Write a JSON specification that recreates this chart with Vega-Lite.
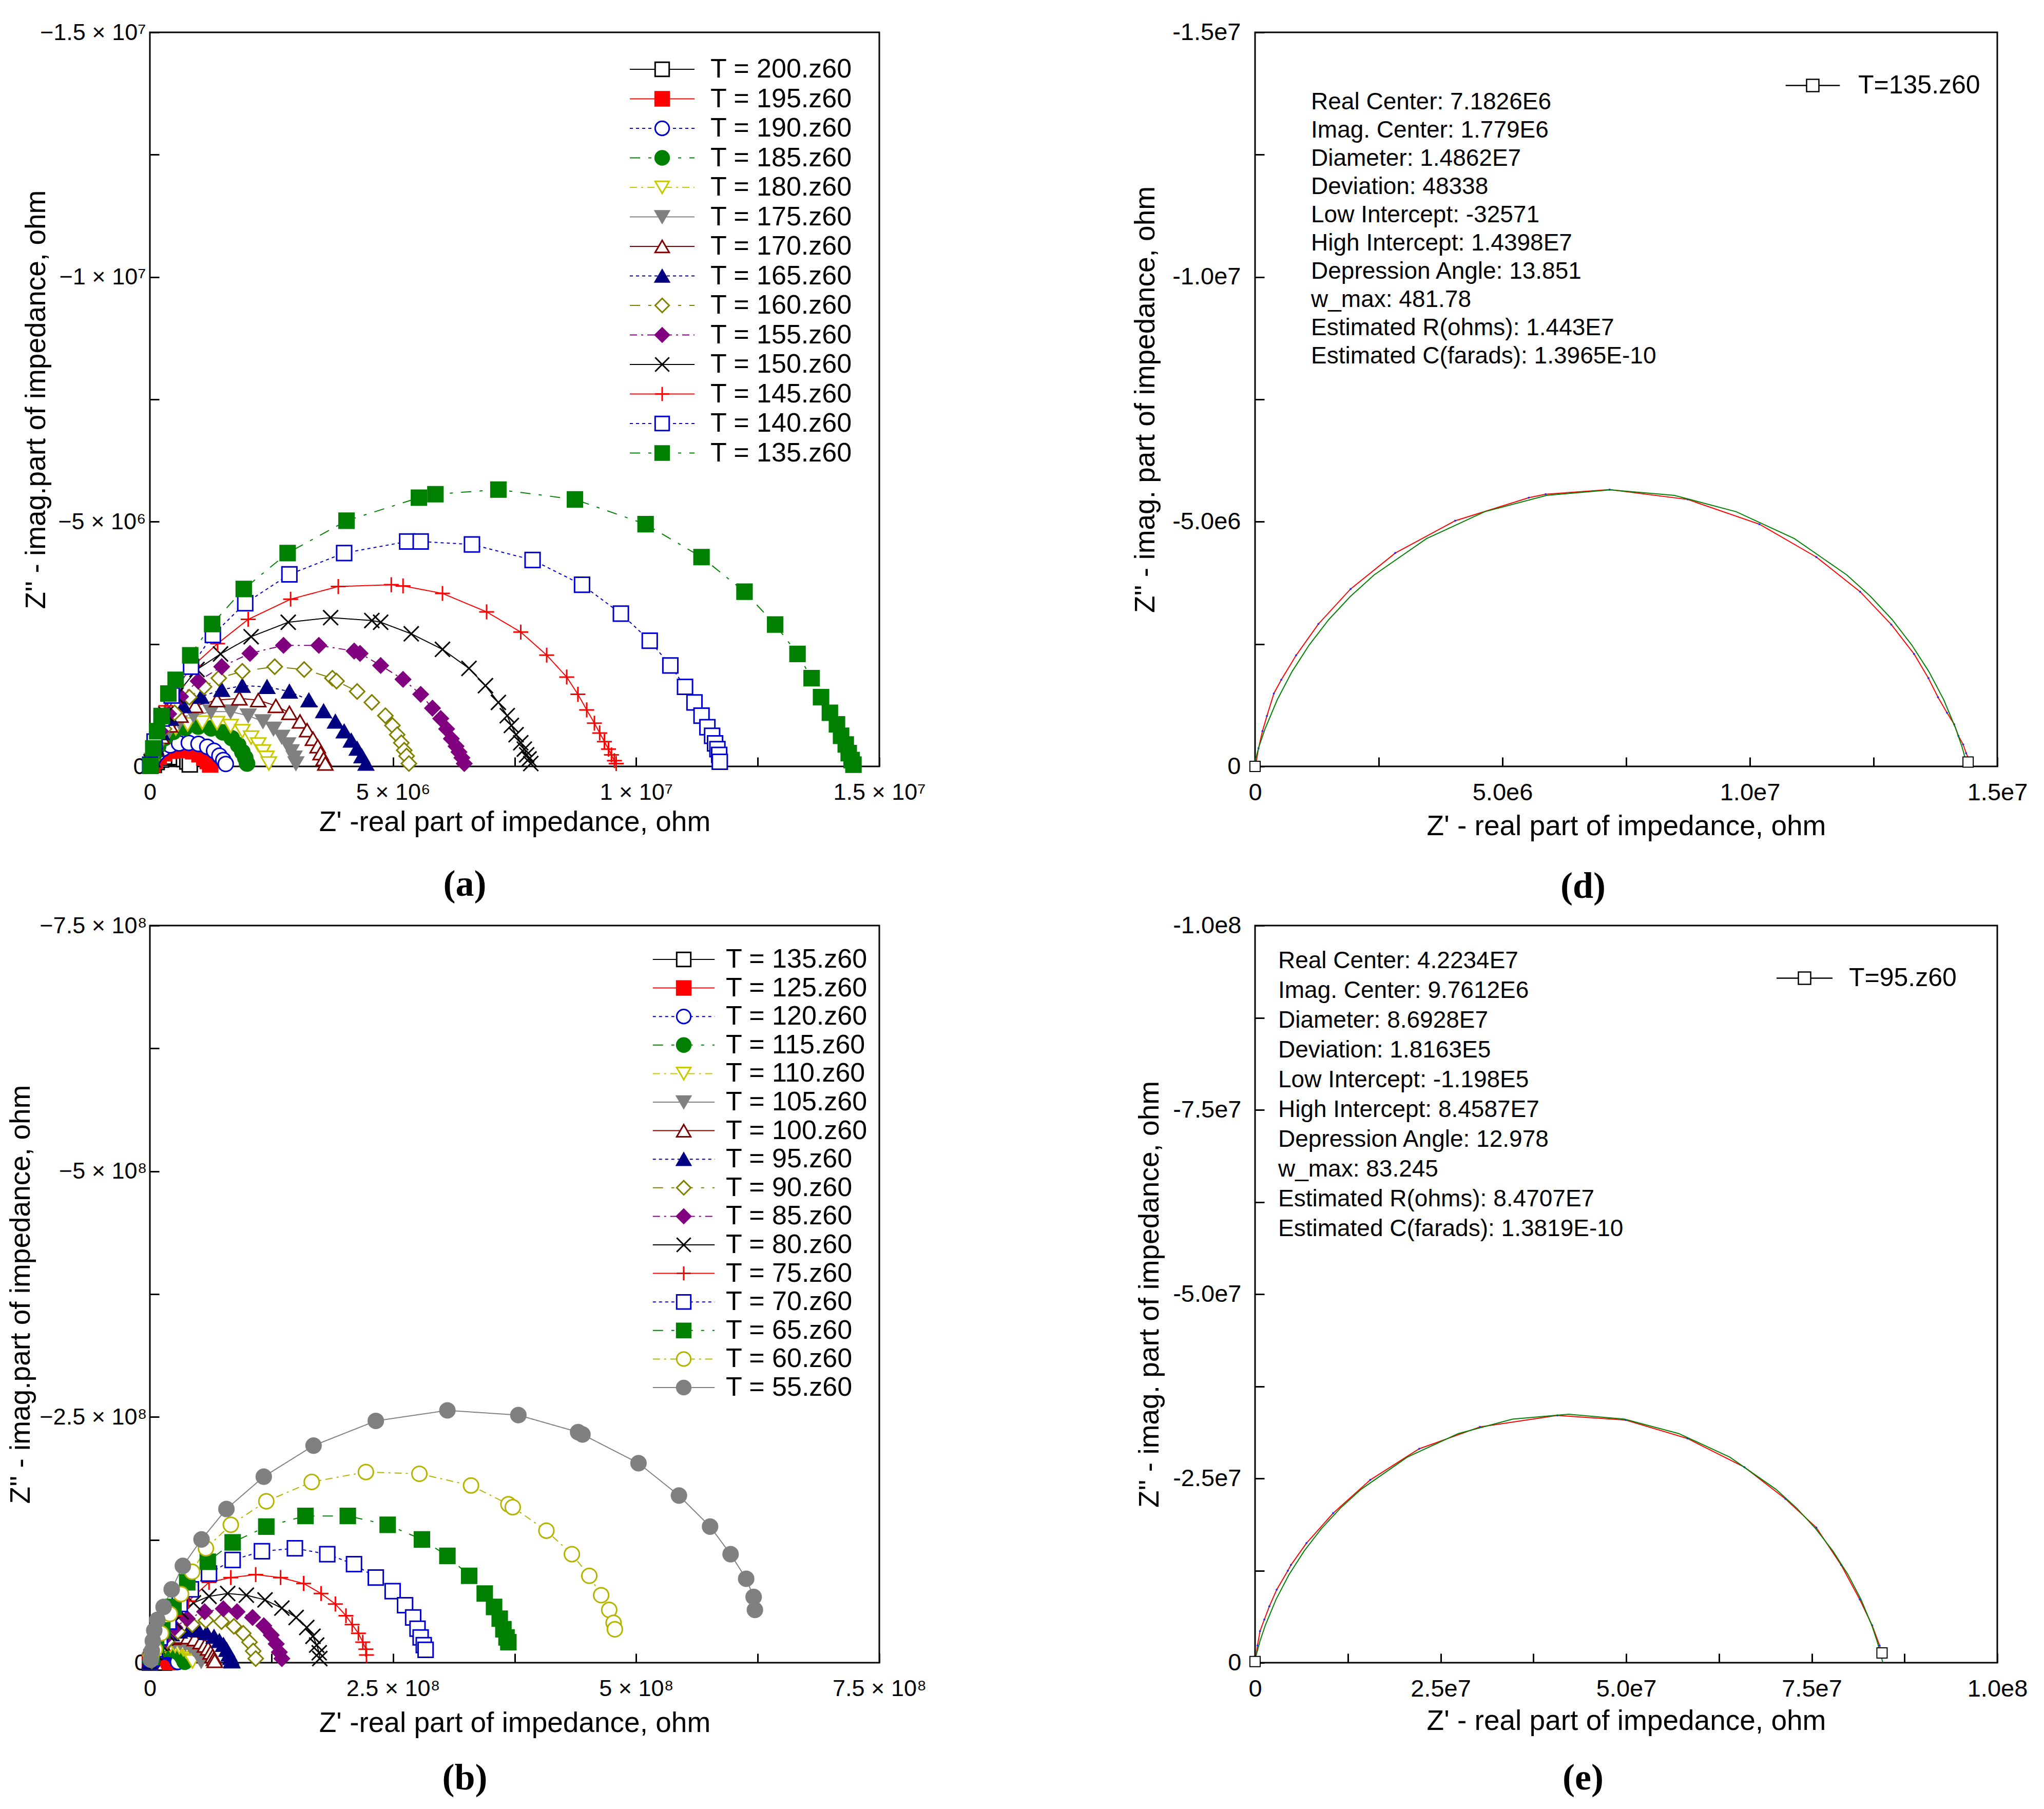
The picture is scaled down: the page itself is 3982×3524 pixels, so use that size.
{
  "$schema": "https://vega.github.io/schema/vega-lite/v6.json",
  "description": "Nyquist plots of impedance at several temperatures, with circle fits",
  "background": "white",
  "padding": {"left": 11, "top": 37, "right": 10, "bottom": 10},
  "datasets": {
    "pa": [
      {"T":200,"x":80000,"y":-30000},{"T":200,"x":140000,"y":-90000},{"T":200,"x":230000,"y":-140000},{"T":200,"x":350000,"y":-180000},{"T":200,"x":480000,"y":-200000},{"T":200,"x":600000,"y":-190000},{"T":200,"x":700000,"y":-150000},{"T":200,"x":770000,"y":-100000},{"T":200,"x":820000,"y":-40000},
      {"T":195,"x":50000,"y":-40000},{"T":195,"x":100000,"y":-120000},{"T":195,"x":180000,"y":-200000},{"T":195,"x":290000,"y":-270000},{"T":195,"x":430000,"y":-320000},{"T":195,"x":580000,"y":-340000},{"T":195,"x":740000,"y":-340000},{"T":195,"x":890000,"y":-310000},{"T":195,"x":1020000,"y":-250000},{"T":195,"x":1120000,"y":-180000},{"T":195,"x":1190000,"y":-110000},{"T":195,"x":1240000,"y":-40000},
      {"T":190,"x":30000,"y":-60000},{"T":190,"x":80000,"y":-170000},{"T":190,"x":160000,"y":-270000},{"T":190,"x":270000,"y":-360000},{"T":190,"x":420000,"y":-430000},{"T":190,"x":600000,"y":-470000},{"T":190,"x":800000,"y":-480000},{"T":190,"x":1000000,"y":-460000},{"T":190,"x":1180000,"y":-400000},{"T":190,"x":1320000,"y":-320000},{"T":190,"x":1430000,"y":-220000},{"T":190,"x":1510000,"y":-130000},{"T":190,"x":1560000,"y":-50000},
      {"T":185,"x":24000,"y":-82000},{"T":185,"x":85000,"y":-247000},{"T":185,"x":170000,"y":-412000},{"T":185,"x":303000,"y":-577000},{"T":185,"x":484000,"y":-707000},{"T":185,"x":726000,"y":-789000},{"T":185,"x":993000,"y":-813000},{"T":185,"x":1259000,"y":-778000},{"T":185,"x":1501000,"y":-695000},{"T":185,"x":1683000,"y":-577000},{"T":185,"x":1816000,"y":-436000},{"T":185,"x":1901000,"y":-295000},{"T":185,"x":1961000,"y":-177000},{"T":185,"x":1998000,"y":-59000},
      {"T":180,"x":36000,"y":-94000},{"T":180,"x":97000,"y":-271000},{"T":180,"x":194000,"y":-448000},{"T":180,"x":339000,"y":-625000},{"T":180,"x":533000,"y":-778000},{"T":180,"x":775000,"y":-860000},{"T":180,"x":1078000,"y":-896000},{"T":180,"x":1380000,"y":-884000},{"T":180,"x":1659000,"y":-825000},{"T":180,"x":1901000,"y":-719000},{"T":180,"x":2082000,"y":-589000},{"T":180,"x":2228000,"y":-448000},{"T":180,"x":2325000,"y":-306000},{"T":180,"x":2397000,"y":-177000},{"T":180,"x":2446000,"y":-59000},
      {"T":175,"x":48000,"y":-130000},{"T":175,"x":121000,"y":-330000},{"T":175,"x":230000,"y":-530000},{"T":175,"x":387000,"y":-719000},{"T":175,"x":605000,"y":-896000},{"T":175,"x":896000,"y":-1037000},{"T":175,"x":1259000,"y":-1119000},{"T":175,"x":1659000,"y":-1119000},{"T":175,"x":2022000,"y":-1037000},{"T":175,"x":2325000,"y":-919000},{"T":175,"x":2542000,"y":-766000},{"T":175,"x":2712000,"y":-601000},{"T":175,"x":2833000,"y":-448000},{"T":175,"x":2906000,"y":-306000},{"T":175,"x":2966000,"y":-177000},{"T":175,"x":3003000,"y":-59000},
      {"T":170,"x":48000,"y":-130000},{"T":170,"x":121000,"y":-365000},{"T":170,"x":242000,"y":-601000},{"T":170,"x":412000,"y":-837000},{"T":170,"x":630000,"y":-1037000},{"T":170,"x":932000,"y":-1237000},{"T":170,"x":1380000,"y":-1355000},{"T":170,"x":1840000,"y":-1390000},{"T":170,"x":2228000,"y":-1355000},{"T":170,"x":2591000,"y":-1237000},{"T":170,"x":2869000,"y":-1096000},{"T":170,"x":3087000,"y":-919000},{"T":170,"x":3233000,"y":-742000},{"T":170,"x":3354000,"y":-566000},{"T":170,"x":3451000,"y":-412000},{"T":170,"x":3511000,"y":-271000},{"T":170,"x":3572000,"y":-153000},{"T":170,"x":3608000,"y":-59000},
      {"T":165,"x":48000,"y":-130000},{"T":165,"x":121000,"y":-389000},{"T":165,"x":242000,"y":-683000},{"T":165,"x":424000,"y":-978000},{"T":165,"x":690000,"y":-1237000},{"T":165,"x":1053000,"y":-1426000},{"T":165,"x":1477000,"y":-1567000},{"T":165,"x":1901000,"y":-1650000},{"T":165,"x":2409000,"y":-1626000},{"T":165,"x":2869000,"y":-1532000},{"T":165,"x":3269000,"y":-1355000},{"T":165,"x":3572000,"y":-1131000},{"T":165,"x":3814000,"y":-919000},{"T":165,"x":3995000,"y":-719000},{"T":165,"x":4141000,"y":-530000},{"T":165,"x":4262000,"y":-365000},{"T":165,"x":4359000,"y":-212000},{"T":165,"x":4443000,"y":-59000},
      {"T":160,"x":48000,"y":-130000},{"T":160,"x":145000,"y":-448000},{"T":160,"x":291000,"y":-766000},{"T":160,"x":508000,"y":-1096000},{"T":160,"x":811000,"y":-1414000},{"T":160,"x":1114000,"y":-1626000},{"T":160,"x":1417000,"y":-1803000},{"T":160,"x":1901000,"y":-1944000},{"T":160,"x":2567000,"y":-2038000},{"T":160,"x":3172000,"y":-1980000},{"T":160,"x":3753000,"y":-1803000},{"T":160,"x":3838000,"y":-1744000},{"T":160,"x":4262000,"y":-1532000},{"T":160,"x":4564000,"y":-1308000},{"T":160,"x":4843000,"y":-1037000},{"T":160,"x":4988000,"y":-837000},{"T":160,"x":5085000,"y":-648000},{"T":160,"x":5170000,"y":-483000},{"T":160,"x":5230000,"y":-330000},{"T":160,"x":5279000,"y":-212000},{"T":160,"x":5327000,"y":-59000},
      {"T":155,"x":24000,"y":-94000},{"T":155,"x":97000,"y":-389000},{"T":155,"x":218000,"y":-719000},{"T":155,"x":387000,"y":-1072000},{"T":155,"x":630000,"y":-1426000},{"T":155,"x":993000,"y":-1744000},{"T":155,"x":1477000,"y":-2038000},{"T":155,"x":2058000,"y":-2309000},{"T":155,"x":2748000,"y":-2474000},{"T":155,"x":3475000,"y":-2474000},{"T":155,"x":4201000,"y":-2357000},{"T":155,"x":4322000,"y":-2309000},{"T":155,"x":4746000,"y":-2062000},{"T":155,"x":5206000,"y":-1779000},{"T":155,"x":5569000,"y":-1473000},{"T":155,"x":5811000,"y":-1190000},{"T":155,"x":5981000,"y":-978000},{"T":155,"x":6102000,"y":-766000},{"T":155,"x":6199000,"y":-566000},{"T":155,"x":6296000,"y":-412000},{"T":155,"x":6356000,"y":-295000},{"T":155,"x":6417000,"y":-177000},{"T":155,"x":6465000,"y":-59000},
      {"T":150,"x":24000,"y":-94000},{"T":150,"x":85000,"y":-389000},{"T":150,"x":182000,"y":-719000},{"T":150,"x":327000,"y":-1072000},{"T":150,"x":533000,"y":-1449000},{"T":150,"x":969000,"y":-1980000},{"T":150,"x":1453000,"y":-2298000},{"T":150,"x":2082000,"y":-2651000},{"T":150,"x":2845000,"y":-2946000},{"T":150,"x":3717000,"y":-3040000},{"T":150,"x":4564000,"y":-2981000},{"T":150,"x":4746000,"y":-2946000},{"T":150,"x":5375000,"y":-2710000},{"T":150,"x":6017000,"y":-2392000},{"T":150,"x":6562000,"y":-2003000},{"T":150,"x":6901000,"y":-1650000},{"T":150,"x":7167000,"y":-1308000},{"T":150,"x":7349000,"y":-1037000},{"T":150,"x":7434000,"y":-837000},{"T":150,"x":7531000,"y":-648000},{"T":150,"x":7627000,"y":-483000},{"T":150,"x":7700000,"y":-353000},{"T":150,"x":7748000,"y":-236000},{"T":150,"x":7797000,"y":-153000},{"T":150,"x":7833000,"y":-59000},
      {"T":145,"x":12000,"y":-94000},{"T":145,"x":73000,"y":-448000},{"T":145,"x":170000,"y":-837000},{"T":145,"x":327000,"y":-1237000},{"T":145,"x":569000,"y":-1661000},{"T":145,"x":896000,"y":-2062000},{"T":145,"x":1392000,"y":-2510000},{"T":145,"x":2022000,"y":-3005000},{"T":145,"x":2894000,"y":-3417000},{"T":145,"x":3874000,"y":-3676000},{"T":145,"x":4964000,"y":-3712000},{"T":145,"x":5206000,"y":-3688000},{"T":145,"x":6017000,"y":-3535000},{"T":145,"x":6925000,"y":-3158000},{"T":145,"x":7627000,"y":-2745000},{"T":145,"x":8160000,"y":-2274000},{"T":145,"x":8572000,"y":-1826000},{"T":145,"x":8802000,"y":-1473000},{"T":145,"x":8983000,"y":-1155000},{"T":145,"x":9141000,"y":-884000},{"T":145,"x":9250000,"y":-683000},{"T":145,"x":9347000,"y":-507000},{"T":145,"x":9431000,"y":-353000},{"T":145,"x":9492000,"y":-236000},{"T":145,"x":9552000,"y":-118000},{"T":145,"x":9589000,"y":-59000},
      {"T":140,"x":5000,"y":-35000},{"T":140,"x":97000,"y":-507000},{"T":140,"x":242000,"y":-978000},{"T":140,"x":448000,"y":-1449000},{"T":140,"x":847000,"y":-2038000},{"T":140,"x":1295000,"y":-2687000},{"T":140,"x":1961000,"y":-3335000},{"T":140,"x":2869000,"y":-3924000},{"T":140,"x":3995000,"y":-4360000},{"T":140,"x":5291000,"y":-4595000},{"T":140,"x":5569000,"y":-4595000},{"T":140,"x":6623000,"y":-4536000},{"T":140,"x":7870000,"y":-4218000},{"T":140,"x":8887000,"y":-3712000},{"T":140,"x":9686000,"y":-3122000},{"T":140,"x":10279000,"y":-2569000},{"T":140,"x":10703000,"y":-2062000},{"T":140,"x":11005000,"y":-1626000},{"T":140,"x":11199000,"y":-1308000},{"T":140,"x":11344000,"y":-1037000},{"T":140,"x":11465000,"y":-801000},{"T":140,"x":11562000,"y":-625000},{"T":140,"x":11623000,"y":-471000},{"T":140,"x":11671000,"y":-353000},{"T":140,"x":11707000,"y":-236000},{"T":140,"x":11720000,"y":-94000},
      {"T":135,"x":10000,"y":-10000},{"T":135,"x":70000,"y":-370000},{"T":135,"x":150000,"y":-720000},{"T":135,"x":240000,"y":-1030000},{"T":135,"x":380000,"y":-1490000},{"T":135,"x":530000,"y":-1770000},{"T":135,"x":830000,"y":-2270000},{"T":135,"x":1280000,"y":-2910000},{"T":135,"x":1930000,"y":-3625000},{"T":135,"x":2833000,"y":-4360000},{"T":135,"x":4044000,"y":-5020000},{"T":135,"x":5533000,"y":-5491000},{"T":135,"x":5872000,"y":-5562000},{"T":135,"x":7167000,"y":-5656000},{"T":135,"x":8741000,"y":-5456000},{"T":135,"x":10194000,"y":-4949000},{"T":135,"x":11344000,"y":-4277000},{"T":135,"x":12228000,"y":-3570000},{"T":135,"x":12858000,"y":-2899000},{"T":135,"x":13318000,"y":-2298000},{"T":135,"x":13608000,"y":-1803000},{"T":135,"x":13802000,"y":-1414000},{"T":135,"x":13984000,"y":-1096000},{"T":135,"x":14129000,"y":-860000},{"T":135,"x":14214000,"y":-625000},{"T":135,"x":14310000,"y":-448000},{"T":135,"x":14371000,"y":-271000},{"T":135,"x":14431000,"y":-130000},{"T":135,"x":14468000,"y":-35000}
    ],
    "pb": [
      {"T":135,"x":10000,"y":-10000},{"T":135,"x":150000,"y":-720000},{"T":135,"x":380000,"y":-1490000},{"T":135,"x":830000,"y":-2270000},{"T":135,"x":1930000,"y":-3625000},{"T":135,"x":4044000,"y":-5020000},{"T":135,"x":7167000,"y":-5656000},{"T":135,"x":10194000,"y":-4949000},{"T":135,"x":12228000,"y":-3570000},{"T":135,"x":13318000,"y":-2298000},{"T":135,"x":13984000,"y":-1096000},{"T":135,"x":14468000,"y":-35000},
      {"T":125,"x":84000,"y":-588000},{"T":125,"x":315000,"y":-1449000},{"T":125,"x":735000,"y":-2457000},{"T":125,"x":1722000,"y":-4032000},{"T":125,"x":3864000,"y":-6153000},{"T":125,"x":7518000,"y":-7938000},{"T":125,"x":10100000,"y":-8316000},{"T":125,"x":12390000,"y":-8169000},{"T":125,"x":14470000,"y":-7560000},{"T":125,"x":16360000,"y":-6573000},{"T":125,"x":17750000,"y":-5523000},{"T":125,"x":18770000,"y":-4557000},{"T":125,"x":19590000,"y":-3297000},{"T":125,"x":20220000,"y":-2121000},{"T":125,"x":20640000,"y":-1260000},{"T":125,"x":20900000,"y":-588000},
      {"T":120,"x":116000,"y":-812000},{"T":120,"x":435000,"y":-2001000},{"T":120,"x":1015000,"y":-3393000},{"T":120,"x":2378000,"y":-5568000},{"T":120,"x":5336000,"y":-8497000},{"T":120,"x":10380000,"y":-10960000},{"T":120,"x":13950000,"y":-11480000},{"T":120,"x":17110000,"y":-11280000},{"T":120,"x":19980000,"y":-10440000},{"T":120,"x":22590000,"y":-9077000},{"T":120,"x":24510000,"y":-7627000},{"T":120,"x":25930000,"y":-6293000},{"T":120,"x":27060000,"y":-4553000},{"T":120,"x":27930000,"y":-2929000},{"T":120,"x":28510000,"y":-1740000},{"T":120,"x":28860000,"y":-812000},
      {"T":115,"x":144000,"y":-1008000},{"T":115,"x":540000,"y":-2484000},{"T":115,"x":1260000,"y":-4212000},{"T":115,"x":2952000,"y":-6912000},{"T":115,"x":6624000,"y":-10550000},{"T":115,"x":12890000,"y":-13610000},{"T":115,"x":17320000,"y":-14260000},{"T":115,"x":21240000,"y":-14000000},{"T":115,"x":24800000,"y":-12960000},{"T":115,"x":28040000,"y":-11270000},{"T":115,"x":30420000,"y":-9468000},{"T":115,"x":32180000,"y":-7812000},{"T":115,"x":33590000,"y":-5652000},{"T":115,"x":34670000,"y":-3636000},{"T":115,"x":35390000,"y":-2160000},{"T":115,"x":35820000,"y":-1008000},
      {"T":110,"x":176000,"y":-1232000},{"T":110,"x":660000,"y":-3036000},{"T":110,"x":1540000,"y":-5148000},{"T":110,"x":3608000,"y":-8448000},{"T":110,"x":8096000,"y":-12890000},{"T":110,"x":15750000,"y":-16630000},{"T":110,"x":21160000,"y":-17420000},{"T":110,"x":25960000,"y":-17120000},{"T":110,"x":30320000,"y":-15840000},{"T":110,"x":34280000,"y":-13770000},{"T":110,"x":37180000,"y":-11570000},{"T":110,"x":39340000,"y":-9548000},{"T":110,"x":41050000,"y":-6908000},{"T":110,"x":42370000,"y":-4444000},{"T":110,"x":43250000,"y":-2640000},{"T":110,"x":43780000,"y":-1232000},
      {"T":105,"x":212000,"y":-1484000},{"T":105,"x":795000,"y":-3657000},{"T":105,"x":1855000,"y":-6201000},{"T":105,"x":4346000,"y":-10180000},{"T":105,"x":9752000,"y":-15530000},{"T":105,"x":18970000,"y":-20030000},{"T":105,"x":25490000,"y":-20990000},{"T":105,"x":31270000,"y":-20620000},{"T":105,"x":36520000,"y":-19080000},{"T":105,"x":41290000,"y":-16590000},{"T":105,"x":44790000,"y":-13940000},{"T":105,"x":47380000,"y":-11500000},{"T":105,"x":49450000,"y":-8320000},{"T":105,"x":51040000,"y":-5350000},{"T":105,"x":52100000,"y":-3180000},{"T":105,"x":52740000,"y":-1484000},
      {"T":100,"x":268000,"y":-1876000},{"T":100,"x":1005000,"y":-4623000},{"T":100,"x":2345000,"y":-7839000},{"T":100,"x":5494000,"y":-12860000},{"T":100,"x":12330000,"y":-19630000},{"T":100,"x":23990000,"y":-25330000},{"T":100,"x":32230000,"y":-26530000},{"T":100,"x":39530000,"y":-26060000},{"T":100,"x":46160000,"y":-24120000},{"T":100,"x":52190000,"y":-20970000},{"T":100,"x":56620000,"y":-17620000},{"T":100,"x":59900000,"y":-14540000},{"T":100,"x":62510000,"y":-10520000},{"T":100,"x":64520000,"y":-6770000},{"T":100,"x":65860000,"y":-4020000},{"T":100,"x":66670000,"y":-1876000},
      {"T":95,"x":0,"y":0},{"T":95,"x":330000,"y":-2340000},{"T":95,"x":670000,"y":-4290000},{"T":95,"x":1250000,"y":-5850000},{"T":95,"x":1920000,"y":-7640000},{"T":95,"x":2920000,"y":-9910000},{"T":95,"x":4420000,"y":-12480000},{"T":95,"x":4840000,"y":-13260000},{"T":95,"x":6930000,"y":-16220000},{"T":95,"x":10520000,"y":-20280000},{"T":95,"x":15530000,"y":-24800000},{"T":95,"x":22120000,"y":-29020000},{"T":95,"x":30300000,"y":-31980000},{"T":95,"x":40730000,"y":-33540000},{"T":95,"x":49920000,"y":-32920000},{"T":95,"x":58260000,"y":-30420000},{"T":95,"x":65940000,"y":-26520000},{"T":95,"x":71450000,"y":-22230000},{"T":95,"x":75620000,"y":-18330000},{"T":95,"x":78960000,"y":-13260000},{"T":95,"x":81470000,"y":-8580000},{"T":95,"x":83140000,"y":-5070000},{"T":95,"x":84140000,"y":-2340000},{"T":95,"x":84390000,"y":-1560000},
      {"T":90,"x":1900000,"y":-1800000},{"T":90,"x":5100000,"y":-7200000},{"T":90,"x":10200000,"y":-13700000},{"T":90,"x":17900000,"y":-22100000},{"T":90,"x":28800000,"y":-31600000},{"T":90,"x":43500000,"y":-38800000},{"T":90,"x":57600000,"y":-43000000},{"T":90,"x":73600000,"y":-41800000},{"T":90,"x":86400000,"y":-37000000},{"T":90,"x":96000000,"y":-29900000},{"T":90,"x":102400000,"y":-20900000},{"T":90,"x":106200000,"y":-11900000},{"T":90,"x":108800000,"y":-4200000},
      {"T":85,"x":1900000,"y":-3000000},{"T":85,"x":5100000,"y":-9000000},{"T":85,"x":9600000,"y":-16700000},{"T":85,"x":16000000,"y":-25700000},{"T":85,"x":25600000,"y":-35800000},{"T":85,"x":38400000,"y":-44800000},{"T":85,"x":56300000,"y":-51900000},{"T":85,"x":75500000,"y":-54900000},{"T":85,"x":89600000,"y":-51900000},{"T":85,"x":105600000,"y":-46000000},{"T":85,"x":117100000,"y":-37600000},{"T":85,"x":124800000,"y":-28100000},{"T":85,"x":129900000,"y":-19100000},{"T":85,"x":133100000,"y":-10700000},{"T":85,"x":135700000,"y":-4200000},
      {"T":80,"x":1900000,"y":-3000000},{"T":80,"x":5100000,"y":-10100000},{"T":80,"x":10200000,"y":-19700000},{"T":80,"x":17300000,"y":-29900000},{"T":80,"x":25600000,"y":-41800000},{"T":80,"x":32000000,"y":-51900000},{"T":80,"x":44800000,"y":-60900000},{"T":80,"x":60800000,"y":-67500000},{"T":80,"x":80000000,"y":-70400000},{"T":80,"x":99200000,"y":-68700000},{"T":80,"x":118400000,"y":-63900000},{"T":80,"x":135700000,"y":-55500000},{"T":80,"x":150400000,"y":-46000000},{"T":80,"x":161300000,"y":-35800000},{"T":80,"x":167700000,"y":-26900000},{"T":80,"x":171500000,"y":-17900000},{"T":80,"x":174100000,"y":-10100000},{"T":80,"x":174700000,"y":-4200000},
      {"T":75,"x":1900000,"y":-3000000},{"T":75,"x":5100000,"y":-11900000},{"T":75,"x":9600000,"y":-22100000},{"T":75,"x":16000000,"y":-34000000},{"T":75,"x":25600000,"y":-47800000},{"T":75,"x":39700000,"y":-62700000},{"T":75,"x":60800000,"y":-81800000},{"T":75,"x":83200000,"y":-86600000},{"T":75,"x":108800000,"y":-89600000},{"T":75,"x":134400000,"y":-86600000},{"T":75,"x":158100000,"y":-80600000},{"T":75,"x":176000000,"y":-70400000},{"T":75,"x":190700000,"y":-59700000},{"T":75,"x":201600000,"y":-47800000},{"T":75,"x":208000000,"y":-38800000},{"T":75,"x":214400000,"y":-29900000},{"T":75,"x":218900000,"y":-20900000},{"T":75,"x":222100000,"y":-13700000},{"T":75,"x":222700000,"y":-7800000},
      {"T":70,"x":1900000,"y":-4200000},{"T":70,"x":5100000,"y":-13700000},{"T":70,"x":10200000,"y":-25700000},{"T":70,"x":19200000,"y":-41800000},{"T":70,"x":30700000,"y":-59700000},{"T":70,"x":42200000,"y":-74600000},{"T":70,"x":60800000,"y":-90700000},{"T":70,"x":85100000,"y":-104500000},{"T":70,"x":115200000,"y":-113400000},{"T":70,"x":149100000,"y":-116400000},{"T":70,"x":182400000,"y":-110400000},{"T":70,"x":209900000,"y":-100300000},{"T":70,"x":232300000,"y":-86600000},{"T":70,"x":249600000,"y":-72800000},{"T":70,"x":262400000,"y":-58500000},{"T":70,"x":270700000,"y":-46000000},{"T":70,"x":275200000,"y":-34600000},{"T":70,"x":278400000,"y":-25700000},{"T":70,"x":281600000,"y":-17900000},{"T":70,"x":283500000,"y":-13100000},
      {"T":65,"x":1900000,"y":-6000000},{"T":65,"x":6400000,"y":-17900000},{"T":65,"x":12800000,"y":-32800000},{"T":65,"x":24300000,"y":-56700000},{"T":65,"x":38400000,"y":-81800000},{"T":65,"x":59500000,"y":-102700000},{"T":65,"x":85100000,"y":-122400000},{"T":65,"x":119700000,"y":-138500000},{"T":65,"x":160000000,"y":-149300000},{"T":65,"x":203500000,"y":-149300000},{"T":65,"x":244500000,"y":-140300000},{"T":65,"x":279700000,"y":-125400000},{"T":65,"x":305900000,"y":-108700000},{"T":65,"x":328300000,"y":-88400000},{"T":65,"x":344300000,"y":-70400000},{"T":65,"x":353900000,"y":-56700000},{"T":65,"x":359700000,"y":-44800000},{"T":65,"x":363500000,"y":-34000000},{"T":65,"x":366700000,"y":-25700000},{"T":65,"x":368600000,"y":-20900000},
      {"T":60,"x":1300000,"y":-6000000},{"T":60,"x":5100000,"y":-13700000},{"T":60,"x":11500000,"y":-29900000},{"T":60,"x":20500000,"y":-49600000},{"T":60,"x":32000000,"y":-69800000},{"T":60,"x":43500000,"y":-92500000},{"T":60,"x":57600000,"y":-116400000},{"T":60,"x":83200000,"y":-140300000},{"T":60,"x":119700000,"y":-164200000},{"T":60,"x":166400000,"y":-183900000},{"T":60,"x":222100000,"y":-194000000},{"T":60,"x":277100000,"y":-192200000},{"T":60,"x":330200000,"y":-180300000},{"T":60,"x":368600000,"y":-161200000},{"T":60,"x":373100000,"y":-158200000},{"T":60,"x":407700000,"y":-134300000},{"T":60,"x":433900000,"y":-110400000},{"T":60,"x":451800000,"y":-88400000},{"T":60,"x":464000000,"y":-68700000},{"T":60,"x":472300000,"y":-53700000},{"T":60,"x":476800000,"y":-40600000},{"T":60,"x":478100000,"y":-34000000},
      {"T":55,"x":1000000,"y":-3000000},{"T":55,"x":2000000,"y":-11900000},{"T":55,"x":3000000,"y":-22100000},{"T":55,"x":4500000,"y":-32800000},{"T":55,"x":7700000,"y":-43600000},{"T":55,"x":14100000,"y":-56700000},{"T":55,"x":22400000,"y":-74600000},{"T":55,"x":33900000,"y":-98500000},{"T":55,"x":53100000,"y":-125400000},{"T":55,"x":78700000,"y":-156400000},{"T":55,"x":117100000,"y":-189300000},{"T":55,"x":168300000,"y":-220900000},{"T":55,"x":232300000,"y":-246000000},{"T":55,"x":305900000,"y":-256700000},{"T":55,"x":378900000,"y":-251900000},{"T":55,"x":440300000,"y":-234600000},{"T":55,"x":444800000,"y":-232200000},{"T":55,"x":502400000,"y":-203000000},{"T":55,"x":544000000,"y":-170100000},{"T":55,"x":576000000,"y":-138500000},{"T":55,"x":597100000,"y":-110400000},{"T":55,"x":613100000,"y":-85400000},{"T":55,"x":620800000,"y":-66900000},{"T":55,"x":622100000,"y":-53700000}
    ],
    "fitd": [
      {"x":-28000,"y":0},{"x":76000,"y":-394000},{"x":200000,"y":-762000},{"x":448000,"y":-1361000},{"x":747000,"y":-1937000},{"x":1095000,"y":-2483000},{"x":1490000,"y":-3000000},{"x":1928000,"y":-3475000},{"x":2406000,"y":-3913000},{"x":3467000,"y":-4656000},{"x":4641000,"y":-5204000},{"x":5893000,"y":-5539000},{"x":7183000,"y":-5652000},{"x":8473000,"y":-5539000},{"x":9724000,"y":-5204000},{"x":10898000,"y":-4656000},{"x":11959000,"y":-3913000},{"x":12437000,"y":-3475000},{"x":12875000,"y":-3000000},{"x":13270000,"y":-2483000},{"x":13618000,"y":-1937000},{"x":13918000,"y":-1361000},{"x":14165000,"y":-762000},{"x":14289000,"y":-394000},{"x":14393000,"y":-19000}
    ],
    "fite": [
      {"x":-117000,"y":0},{"x":669000,"y":-2948000},{"x":1390000,"y":-5100000},{"x":2840000,"y":-8607000},{"x":4590000,"y":-11970000},{"x":6628000,"y":-15170000},{"x":8940000,"y":-18180000},{"x":11500000,"y":-20970000},{"x":14300000,"y":-23530000},{"x":20500000,"y":-27880000},{"x":27370000,"y":-31080000},{"x":34690000,"y":-33040000},{"x":42230000,"y":-33700000},{"x":49780000,"y":-33040000},{"x":57100000,"y":-31080000},{"x":63970000,"y":-27880000},{"x":70170000,"y":-23530000},{"x":72970000,"y":-20970000},{"x":75530000,"y":-18180000},{"x":77840000,"y":-15170000},{"x":79870000,"y":-11970000},{"x":81630000,"y":-8607000},{"x":83080000,"y":-5100000},{"x":83800000,"y":-2948000},{"x":84580000,"y":-20000}
    ],
    "endd": [{"T":"T=135.z60","x":0,"y":0},{"T":"T=135.z60","x":14410000,"y":-90000}],
    "ende": [{"T":"T=95.z60","x":0,"y":-160000},{"T":"T=95.z60","x":84470000,"y":-1330000}],
    "infod": [{"info": "Real Center: 7.1826E6\nImag. Center: 1.779E6\nDiameter: 1.4862E7\nDeviation: 48338\nLow Intercept: -32571\nHigh Intercept: 1.4398E7\nDepression Angle: 13.851\nw_max: 481.78\nEstimated R(ohms): 1.443E7\nEstimated C(farads): 1.3965E-10"}],
    "infoe": [{"info": "Real Center: 4.2234E7\nImag. Center: 9.7612E6\nDiameter: 8.6928E7\nDeviation: 1.8163E5\nLow Intercept: -1.198E5\nHigh Intercept: 8.4587E7\nDepression Angle: 12.978\nw_max: 83.245\nEstimated R(ohms): 8.4707E7\nEstimated C(farads): 1.3819E-10"}]
  },
  "columns": 2,
  "bounds": "flush",
  "align": "each",
  "spacing": {"row": 310, "column": 732},
  "resolve": {
    "scale": {"color": "independent", "strokeDash": "independent", "shape": "independent", "stroke": "independent", "fill": "independent"},
    "legend": {"color": "independent", "strokeDash": "independent", "shape": "independent", "stroke": "independent", "fill": "independent"}
  },
  "concat": [
    {
      "width": 1421,
      "height": 1430,
      "title": {"text": "(a)", "orient": "bottom", "frame": "group", "anchor": "middle", "offset": 94, "baseline": "middle", "dx": -97},
      "data": {"name": "pa"},
      "layer": [
        {
          "mark": {"type": "line", "strokeWidth": 2},
          "encoding": {
            "x": {"field": "x", "type": "quantitative", "scale": {"domain": [0, 15000000], "nice": false, "zero": false},
              "axis": {"title": "Z' -real part of impedance, ohm", "values": [0, 2500000, 5000000, 7500000, 10000000, 12500000, 15000000],
                "labelExpr": "datum.value == 0 ? '0' : datum.value == 5000000 ? '5 × 10⁶' : datum.value == 10000000 ? '1 × 10⁷' : datum.value == 15000000 ? '1.5 × 10⁷' : ''",
                "labelFontSize": 45, "labelPadding": 46, "titleY": 108}},
            "y": {"field": "y", "type": "quantitative", "scale": {"domain": [-15000000, 0], "reverse": true, "nice": false, "zero": false},
              "axis": {"title": "Z'' - imag.part of impedance, ohm", "values": [0, -2500000, -5000000, -7500000, -10000000, -12500000, -15000000],
                "labelExpr": "datum.value == 0 ? '0' : datum.value == -5000000 ? '−5 × 10⁶' : datum.value == -10000000 ? '−1 × 10⁷' : datum.value == -15000000 ? '−1.5 × 10⁷' : ''",
                "labelFontSize": 45, "labelPadding": 26, "titleX": -222}},
            "color": {"field": "T", "type": "nominal",
              "scale": {"domain": [200, 195, 190, 185, 180, 175, 170, 165, 160, 155, 150, 145, 140, 135],
                "range": ["#000000", "#FF0000", "#0000CC", "#008000", "#C8C800", "#808080", "#800000", "#000080", "#808000", "#800080", "#000000", "#FF0000", "#0000CC", "#008000"]},
              "legend": {"title": null, "orient": "none", "legendX": 972, "legendY": 46, "padding": 0, "symbolType": "M-4.6,0H4.6", "symbolSize": 750, "symbolStrokeWidth": 2, "labelExpr": "''", "labelFontSize": 52, "labelOffset": 68, "rowPadding": 5.5}},
            "strokeDash": {"field": "T", "type": "nominal",
              "scale": {"domain": [200, 195, 190, 185, 180, 175, 170, 165, 160, 155, 150, 145, 140, 135],
                "range": [[1, 0], [1, 0], [6, 6], [20, 16, 6, 16], [14, 8, 4, 8], [1, 0], [1, 0], [6, 6], [20, 16, 6, 16], [14, 8, 4, 8], [1, 0], [1, 0], [6, 6], [20, 16, 6, 16]]},
              "legend": {"title": null, "orient": "none", "legendX": 972, "legendY": 46, "padding": 0, "symbolType": "M-4.6,0H4.6", "symbolSize": 750, "symbolStrokeWidth": 2, "labelExpr": "''", "labelFontSize": 52, "labelOffset": 68, "rowPadding": 5.5}}
          }
        },
        {
          "mark": {"type": "point", "size": 850, "strokeWidth": 3, "opacity": 1},
          "encoding": {
            "x": {"field": "x", "type": "quantitative"},
            "y": {"field": "y", "type": "quantitative"},
            "shape": {"field": "T", "type": "nominal", "sort": "descending",
              "scale": {"range": ["square", "square", "circle", "circle", "triangle-down", "triangle-down", "triangle-up", "triangle-up", "diamond", "diamond", "M-1,-1L1,1M-1,1L1,-1", "M-1,0L1,0M0,-1L0,1", "square", "square"]},
              "legend": {"title": null, "orient": "none", "legendX": 972, "legendY": 46, "padding": 0, "symbolSize": 750, "symbolStrokeWidth": 3, "labelFontSize": 52, "labelOffset": 68, "rowPadding": 5.5, "labelExpr": "'T = ' + datum.label + '.z60'"}},
            "stroke": {"field": "T", "type": "nominal", "sort": "descending",
              "scale": {"range": ["#000000", "#FF0000", "#0000CC", "#008000", "#C8C800", "#808080", "#800000", "#000080", "#808000", "#800080", "#000000", "#FF0000", "#0000CC", "#008000"]},
              "legend": {"title": null, "orient": "none", "legendX": 972, "legendY": 46, "padding": 0, "symbolSize": 750, "symbolStrokeWidth": 3, "labelFontSize": 52, "labelOffset": 68, "rowPadding": 5.5, "labelExpr": "'T = ' + datum.label + '.z60'"}},
            "fill": {"field": "T", "type": "nominal", "sort": "descending",
              "scale": {"range": ["white", "#FF0000", "white", "#008000", "white", "#808080", "white", "#000080", "white", "#800080", "transparent", "transparent", "white", "#008000"]},
              "legend": {"title": null, "orient": "none", "legendX": 972, "legendY": 46, "padding": 0, "symbolSize": 750, "symbolStrokeWidth": 3, "labelFontSize": 52, "labelOffset": 68, "rowPadding": 5.5, "labelExpr": "'T = ' + datum.label + '.z60'"}}
          }
        }
      ]
    },
    {
      "width": 1446,
      "height": 1430,
      "title": {"text": "(d)", "orient": "bottom", "frame": "group", "anchor": "middle", "offset": 90, "baseline": "middle", "dx": -84},
      "layer": [
        {
          "data": {"name": "pa"},
          "transform": [{"filter": "datum.T == 135"}],
          "mark": {"type": "line", "color": "#FF0000", "strokeWidth": 2},
          "encoding": {
            "x": {"field": "x", "type": "quantitative", "scale": {"domain": [0, 15000000], "nice": false, "zero": false},
              "axis": {"title": "Z' - real part of impedance, ohm", "values": [0, 2500000, 5000000, 7500000, 10000000, 12500000, 15000000],
                "labelExpr": "datum.value == 0 ? '0' : datum.value == 5000000 ? '5.0e6' : datum.value == 10000000 ? '1.0e7' : datum.value == 15000000 ? '1.5e7' : ''",
                "labelFontSize": 47, "labelPadding": 46, "titleY": 116}},
            "y": {"field": "y", "type": "quantitative", "scale": {"domain": [-15000000, 0], "reverse": true, "nice": false, "zero": false},
              "axis": {"title": "Z'' - imag. part of impedance, ohm", "values": [0, -2500000, -5000000, -7500000, -10000000, -12500000, -15000000],
                "labelExpr": "datum.value == 0 ? '0' : datum.value == -5000000 ? '-5.0e6' : datum.value == -10000000 ? '-1.0e7' : datum.value == -15000000 ? '-1.5e7' : ''",
                "labelFontSize": 47, "labelPadding": 46, "titleX": -214}}
          }
        },
        {
          "data": {"name": "pa"},
          "transform": [{"filter": "datum.T == 135"}],
          "mark": {"type": "point", "filled": true, "color": "#2030FF", "size": 16, "opacity": 1},
          "encoding": {"x": {"field": "x", "type": "quantitative"}, "y": {"field": "y", "type": "quantitative"}}
        },
        {
          "data": {"name": "fitd"},
          "mark": {"type": "line", "color": "#008000", "strokeWidth": 2},
          "encoding": {"x": {"field": "x", "type": "quantitative"}, "y": {"field": "y", "type": "quantitative"}}
        },
        {
          "data": {"name": "endd"},
          "mark": {"type": "point", "shape": "square", "size": 400, "strokeWidth": 2, "fill": "white", "opacity": 1},
          "encoding": {
            "x": {"field": "x", "type": "quantitative"},
            "y": {"field": "y", "type": "quantitative"},
            "stroke": {"field": "T", "type": "nominal", "scale": {"range": ["#000000"]},
              "legend": {"title": null, "orient": "none", "legendX": 1061, "legendY": 78, "padding": 0,
                "symbolType": "M-2.2,0H-0.5M0.5,0H2.2M-0.5,-0.5H0.5V0.5H-0.5Z", "symbolSize": 2304, "symbolStrokeWidth": 2.5, "symbolFillColor": "white",
                "labelFontSize": 50, "labelOffset": 63}}
          }
        },
        {
          "data": {"name": "infod"},
          "mark": {"type": "text", "align": "left", "baseline": "top", "lineBreak": "\n", "font": "Liberation Sans", "fontSize": 46, "lineHeight": 55, "color": "black"},
          "encoding": {
            "x": {"datum": 1131000},
            "y": {"datum": -13800000},
            "text": {"field": "info", "type": "nominal"}
          }
        }
      ]
    },
    {
      "width": 1421,
      "height": 1436,
      "title": {"text": "(b)", "orient": "bottom", "frame": "group", "anchor": "middle", "offset": 80, "baseline": "middle", "dx": -97},
      "data": {"name": "pb"},
      "layer": [
        {
          "mark": {"type": "line", "strokeWidth": 2},
          "encoding": {
            "x": {"field": "x", "type": "quantitative", "scale": {"domain": [0, 750000000], "nice": false, "zero": false},
              "axis": {"title": "Z' -real part of impedance, ohm", "values": [0, 125000000, 250000000, 375000000, 500000000, 625000000, 750000000],
                "labelExpr": "datum.value == 0 ? '0' : datum.value == 250000000 ? '2.5 × 10⁸' : datum.value == 500000000 ? '5 × 10⁸' : datum.value == 750000000 ? '7.5 × 10⁸' : ''",
                "labelFontSize": 45, "labelPadding": 46, "titleY": 117}},
            "y": {"field": "y", "type": "quantitative", "scale": {"domain": [-750000000, 0], "reverse": true, "nice": false, "zero": false},
              "axis": {"title": "Z'' - imag.part of impedance, ohm", "values": [0, -125000000, -250000000, -375000000, -500000000, -625000000, -750000000],
                "labelExpr": "datum.value == 0 ? '0' : datum.value == -250000000 ? '−2.5 × 10⁸' : datum.value == -500000000 ? '−5 × 10⁸' : datum.value == -750000000 ? '−7.5 × 10⁸' : ''",
                "labelFontSize": 45, "labelPadding": 24, "titleX": -252}},
            "color": {"field": "T", "type": "nominal",
              "scale": {"domain": [135, 125, 120, 115, 110, 105, 100, 95, 90, 85, 80, 75, 70, 65, 60, 55],
                "range": ["#000000", "#FF0000", "#0000CC", "#008000", "#C8C800", "#808080", "#800000", "#000080", "#808000", "#800080", "#000000", "#FF0000", "#0000CC", "#008000", "#B4B400", "#808080"]},
              "legend": {"title": null, "orient": "none", "legendX": 1014, "legendY": 40, "padding": 0, "symbolType": "M-4.4,0H4.4", "symbolSize": 750, "symbolStrokeWidth": 2, "labelExpr": "''", "labelFontSize": 52, "labelOffset": 56, "rowPadding": 3.6}},
            "strokeDash": {"field": "T", "type": "nominal",
              "scale": {"domain": [135, 125, 120, 115, 110, 105, 100, 95, 90, 85, 80, 75, 70, 65, 60, 55],
                "range": [[1, 0], [1, 0], [6, 6], [20, 16, 6, 16], [14, 8, 4, 8], [1, 0], [1, 0], [6, 6], [20, 16, 6, 16], [14, 8, 4, 8], [1, 0], [1, 0], [6, 6], [20, 16, 6, 16], [14, 8, 4, 8], [1, 0]]},
              "legend": {"title": null, "orient": "none", "legendX": 1014, "legendY": 40, "padding": 0, "symbolType": "M-4.4,0H4.4", "symbolSize": 750, "symbolStrokeWidth": 2, "labelExpr": "''", "labelFontSize": 52, "labelOffset": 56, "rowPadding": 3.6}}
          }
        },
        {
          "mark": {"type": "point", "size": 850, "strokeWidth": 3, "opacity": 1},
          "encoding": {
            "x": {"field": "x", "type": "quantitative"},
            "y": {"field": "y", "type": "quantitative"},
            "shape": {"field": "T", "type": "nominal", "sort": "descending",
              "scale": {"range": ["square", "square", "circle", "circle", "triangle-down", "triangle-down", "triangle-up", "triangle-up", "diamond", "diamond", "M-1,-1L1,1M-1,1L1,-1", "M-1,0L1,0M0,-1L0,1", "square", "square", "circle", "circle"]},
              "legend": {"title": null, "orient": "none", "legendX": 1014, "legendY": 40, "padding": 0, "symbolSize": 750, "symbolStrokeWidth": 3, "labelFontSize": 52, "labelOffset": 56, "rowPadding": 3.6, "labelExpr": "'T = ' + datum.label + '.z60'"}},
            "stroke": {"field": "T", "type": "nominal", "sort": "descending",
              "scale": {"range": ["#000000", "#FF0000", "#0000CC", "#008000", "#C8C800", "#808080", "#800000", "#000080", "#808000", "#800080", "#000000", "#FF0000", "#0000CC", "#008000", "#B4B400", "#808080"]},
              "legend": {"title": null, "orient": "none", "legendX": 1014, "legendY": 40, "padding": 0, "symbolSize": 750, "symbolStrokeWidth": 3, "labelFontSize": 52, "labelOffset": 56, "rowPadding": 3.6, "labelExpr": "'T = ' + datum.label + '.z60'"}},
            "fill": {"field": "T", "type": "nominal", "sort": "descending",
              "scale": {"range": ["white", "#FF0000", "white", "#008000", "white", "#808080", "white", "#000080", "white", "#800080", "transparent", "transparent", "white", "#008000", "white", "#808080"]},
              "legend": {"title": null, "orient": "none", "legendX": 1014, "legendY": 40, "padding": 0, "symbolSize": 750, "symbolStrokeWidth": 3, "labelFontSize": 52, "labelOffset": 56, "rowPadding": 3.6, "labelExpr": "'T = ' + datum.label + '.z60'"}}
          }
        }
      ]
    },
    {
      "width": 1446,
      "height": 1436,
      "title": {"text": "(e)", "orient": "bottom", "frame": "group", "anchor": "middle", "offset": 84, "baseline": "middle", "dx": -84},
      "layer": [
        {
          "data": {"name": "pb"},
          "transform": [{"filter": "datum.T == 95"}],
          "mark": {"type": "line", "color": "#FF0000", "strokeWidth": 2},
          "encoding": {
            "x": {"field": "x", "type": "quantitative", "scale": {"domain": [0, 100000000], "nice": false, "zero": false},
              "axis": {"title": "Z' - real part of impedance, ohm", "values": [0, 12500000, 25000000, 37500000, 50000000, 62500000, 75000000, 87500000, 100000000],
                "labelExpr": "datum.value == 0 ? '0' : datum.value == 25000000 ? '2.5e7' : datum.value == 50000000 ? '5.0e7' : datum.value == 75000000 ? '7.5e7' : datum.value == 100000000 ? '1.0e8' : ''",
                "labelFontSize": 47, "labelPadding": 46, "titleY": 113}},
            "y": {"field": "y", "type": "quantitative", "scale": {"domain": [-100000000, 0], "reverse": true, "nice": false, "zero": false},
              "axis": {"title": "Z'' - imag. part of impedance, ohm", "values": [0, -12500000, -25000000, -37500000, -50000000, -62500000, -75000000, -87500000, -100000000],
                "labelExpr": "datum.value == 0 ? '0' : datum.value == -25000000 ? '-2.5e7' : datum.value == -50000000 ? '-5.0e7' : datum.value == -75000000 ? '-7.5e7' : datum.value == -100000000 ? '-1.0e8' : ''",
                "labelFontSize": 47, "labelPadding": 45, "titleX": -206}}
          }
        },
        {
          "data": {"name": "pb"},
          "transform": [{"filter": "datum.T == 95"}],
          "mark": {"type": "point", "filled": true, "color": "#2030FF", "size": 16, "opacity": 1},
          "encoding": {"x": {"field": "x", "type": "quantitative"}, "y": {"field": "y", "type": "quantitative"}}
        },
        {
          "data": {"name": "fite"},
          "mark": {"type": "line", "color": "#008000", "strokeWidth": 2},
          "encoding": {"x": {"field": "x", "type": "quantitative"}, "y": {"field": "y", "type": "quantitative"}}
        },
        {
          "data": {"name": "ende"},
          "mark": {"type": "point", "shape": "square", "size": 400, "strokeWidth": 2, "fill": "white", "opacity": 1},
          "encoding": {
            "x": {"field": "x", "type": "quantitative"},
            "y": {"field": "y", "type": "quantitative"},
            "stroke": {"field": "T", "type": "nominal", "scale": {"range": ["#000000"]},
              "legend": {"title": null, "orient": "none", "legendX": 1045, "legendY": 77, "padding": 0,
                "symbolType": "M-2.27,0H-0.5M0.5,0H2.27M-0.5,-0.5H0.5V0.5H-0.5Z", "symbolSize": 2304, "symbolStrokeWidth": 2.5, "symbolFillColor": "white",
                "labelFontSize": 50, "labelOffset": 61}}
          }
        },
        {
          "data": {"name": "infoe"},
          "mark": {"type": "text", "align": "left", "baseline": "top", "lineBreak": "\n", "font": "Liberation Sans", "fontSize": 46, "lineHeight": 58, "color": "black"},
          "encoding": {
            "x": {"datum": 3110000},
            "y": {"datum": -96730000},
            "text": {"field": "info", "type": "nominal"}
          }
        }
      ]
    }
  ],
  "config": {
    "view": {"stroke": "black", "strokeWidth": 3},
    "axis": {"labelFont": "Liberation Sans", "titleFont": "Liberation Sans", "titleFontWeight": "normal", "titleFontSize": 55, "labelColor": "black", "titleColor": "black", "grid": false, "domain": false, "tickColor": "black", "tickWidth": 3, "tickSize": -18, "labelFlush": false, "labelOverlap": false, "labelBound": false, "labelLimit": 0, "titleLimit": 0, "titleBaseline": "middle"},
    "legend": {"labelFont": "Liberation Sans", "labelColor": "black", "labelLimit": 0},
    "title": {"font": "Liberation Serif", "fontSize": 72, "fontWeight": "bold", "color": "black"}
  }
}
